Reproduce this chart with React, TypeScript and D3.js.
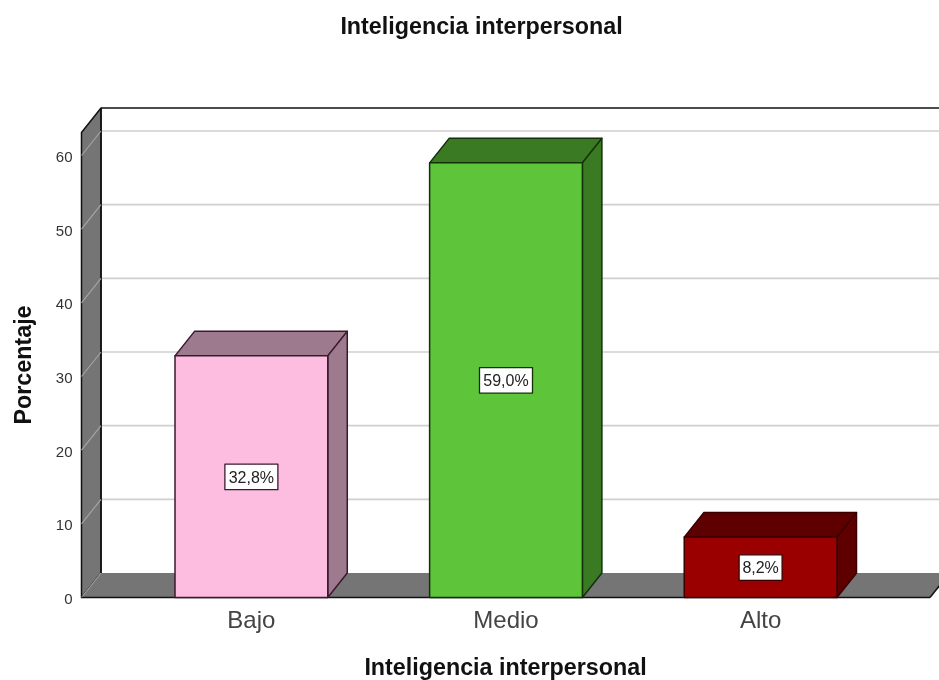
import React from "react";
import * as d3 from "d3";

const categories = ["Bajo", "Medio", "Alto"];
const percentages = [32.8, 59.0, 8.2];
const labels = ["32,8%", "59,0%", "8,2%"];
const frontColors = ["#FDBDE0", "#5EC43A", "#9A0000"];
const topColors = ["#9E7A8E", "#3A7A22", "#5E0000"];
const sideColors = ["#9E7A8E", "#3A7A22", "#5E0000"];
const edgeColors = ["#3A1A30", "#12300A", "#3A0000"];
const yTicks = [0, 10, 20, 30, 40, 50, 60];
const title = "Inteligencia interpersonal";
const yTitle = "Porcentaje";

const W = 939, H = 680;
const DX = 19.5, DY = -24.5;
const FONT = "'Liberation Sans', Arial, sans-serif";

const y = d3.scaleLinear().domain([0, 60]).range([597.5, 155.5]);
const x = d3.scaleBand<string>().domain(categories).range([175, 837]).paddingInner(0.4).paddingOuter(0);
const LEFT = 81.5, RIGHT = 930, TOP = 108;
const poly = (pts: [number, number][]) => pts.map(p => p.join(",")).join(" ");

export default function App() {
  const y0 = y(0);
  return (
    <svg width={W} height={H} style={{ position: "absolute", left: 0, top: 0, background: "#fff", filter: "blur(0.35px)" }}>
      <text x={481.5} y={34} textAnchor="middle" fontFamily={FONT} fontWeight={700} fontSize={23.3} fill="#111">{title}</text>

      {/* back wall */}
      <line x1={LEFT + DX} x2={W} y1={TOP} y2={TOP} stroke="#111" strokeWidth={1.5} />
      {yTicks.filter(t => t > 0).map(t => (
        <line key={t} x1={LEFT + DX} x2={W} y1={y(t) + DY} y2={y(t) + DY} stroke="#CFCFCF" strokeWidth={1.6} />
      ))}
      {/* side wall */}
      <polygon points={poly([[LEFT, y0], [LEFT, TOP - DY], [LEFT + DX, TOP], [LEFT + DX, y0 + DY]])} fill="#757575" stroke="#111" strokeWidth={1.5} strokeLinejoin="round" />
      {/* floor */}
      <polygon points={poly([[LEFT, y0], [LEFT + DX, y0 + DY], [RIGHT + DX, y0 + DY], [RIGHT, y0]])} fill="#757575" />
      <line x1={LEFT + DX} x2={LEFT + DX} y1={TOP} y2={y0 + DY} stroke="#111" strokeWidth={1.5} />
      <line x1={RIGHT} x2={RIGHT + DX} y1={y0} y2={y0 + DY} stroke="#111" strokeWidth={1.5} />
      {yTicks.map(t => (
        <line key={t} x1={LEFT} x2={LEFT + DX} y1={y(t)} y2={y(t) + DY} stroke="#A6A6A6" strokeWidth={1.1} />
      ))}
      <line x1={LEFT} x2={RIGHT} y1={y0} y2={y0} stroke="#111" strokeWidth={1.5} />

      {yTicks.map(t => (
        <text key={t} x={72.5} y={y(t) + 6.5} textAnchor="end" fontFamily={FONT} fontSize={15} fill="#333">{t}</text>
      ))}

      {/* bars */}
      {categories.map((c, i) => {
        const l = x(c)!, r = l + x.bandwidth(), t = y(percentages[i]);
        const mid = (l + r) / 2, cy = (t + y0) / 2;
        const bw = labels[i].length > 4 ? 53 : 43;
        return (
          <g key={c} stroke={edgeColors[i]} strokeWidth={1.5} strokeLinejoin="round">
            <polygon points={poly([[l, t], [l + DX, t + DY], [r + DX, t + DY], [r, t]])} fill={topColors[i]} />
            <polygon points={poly([[r, t], [r + DX, t + DY], [r + DX, y0 + DY], [r, y0]])} fill={sideColors[i]} />
            <rect x={l} y={t} width={r - l} height={y0 - t} fill={frontColors[i]} />
            <rect x={mid - bw / 2} y={cy - 12.5} width={bw} height={25.5} fill="#fff" stroke={edgeColors[i]} strokeWidth={1.3} />
            <text x={mid} y={cy + 6} textAnchor="middle" fontFamily={FONT} fontSize={16} fill="#222" stroke="none">{labels[i]}</text>
            <text x={mid} y={628} textAnchor="middle" fontFamily={FONT} fontSize={24} fill="#444" stroke="none">{c}</text>
          </g>
        );
      })}

      <text x={505.5} y={675} textAnchor="middle" fontFamily={FONT} fontWeight={700} fontSize={23.3} fill="#111">{title}</text>
      <text transform="translate(30.5,365) rotate(-90)" textAnchor="middle" fontFamily={FONT} fontWeight={700} fontSize={23.3} fill="#111">{yTitle}</text>
    </svg>
  );
}
